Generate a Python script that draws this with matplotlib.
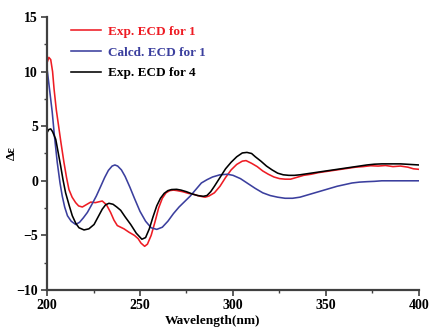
import matplotlib
matplotlib.use("Agg")
import matplotlib.pyplot as plt
from matplotlib.ticker import MultipleLocator

# ---- data ----
wl_exp1 = [200, 201, 202, 203, 203.8, 205, 206.5, 207.5, 209.1, 210.5, 211.8, 213.5, 215.4, 217, 219,
           221, 223.5, 226, 229.7, 232, 234.2, 236, 237.8, 241.4, 244, 247, 249, 250.5, 252.5, 254,
           256, 258, 260, 262, 264, 266, 268, 270, 273, 276, 279, 282, 285, 287, 290, 293, 296, 299,
           302, 305, 307, 310, 313, 316, 319, 322, 325, 328, 331, 334, 338, 342, 346, 350, 354, 358,
           362, 366, 370, 374, 378, 382, 386, 390, 394, 397, 400]
eps_exp1 = [10.8, 11.3, 11.1, 10.0, 8.4, 6.5, 4.7, 3.5, 1.7, 0.3, -0.8, -1.5, -2.0, -2.3, -2.4,
            -2.2, -1.95, -2.0, -1.85, -2.2, -2.9, -3.6, -4.1, -4.4, -4.7, -5.0, -5.3, -5.7, -6.0, -5.8,
            -5.0, -3.8, -2.5, -1.6, -1.1, -0.9, -0.85, -0.9, -1.0, -1.15, -1.25, -1.4, -1.5, -1.4, -1.1,
            -0.5, 0.3, 1.0, 1.5, 1.8, 1.85, 1.6, 1.3, 0.9, 0.6, 0.35, 0.2, 0.15, 0.15, 0.3, 0.5, 0.6,
            0.75, 0.85, 0.95, 1.05, 1.15, 1.25, 1.3, 1.38, 1.35, 1.4, 1.3, 1.35, 1.25, 1.1, 1.05]

wl_calc1 = [200, 201, 202.8, 204, 205.5, 207, 208.2, 209.5, 211, 213, 215.4, 217.5, 219.5, 221.7, 224,
            226.5, 228.9, 231, 233, 235, 236.5, 238, 240, 242, 244.6, 247, 250, 253, 256, 259, 262,
            265, 268, 271, 274, 277, 280, 283, 286, 289, 293, 297, 300, 304, 308, 312, 316, 320, 324,
            328, 332, 336, 340, 344, 348, 352, 356, 360, 364, 368, 372, 376, 380, 390, 400]
eps_calc1 = [10.3, 8.9, 6.3, 4.1, 1.7, -0.2, -1.4, -2.4, -3.2, -3.7, -4.0, -3.8, -3.4, -2.9, -2.2,
             -1.4, -0.5, 0.3, 0.95, 1.35, 1.45, 1.35, 1.0, 0.4, -0.6, -1.6, -2.8, -3.7, -4.3, -4.45, -4.25,
             -3.7, -3.0, -2.4, -1.9, -1.4, -0.8, -0.2, 0.1, 0.35, 0.55, 0.6, 0.5, 0.2, -0.25, -0.7, -1.1,
             -1.35, -1.5, -1.6, -1.6, -1.5, -1.3, -1.1, -0.9, -0.7, -0.5, -0.35, -0.2, -0.12, -0.08,
             -0.05, 0.0, 0.0, 0.0]

wl_exp4 = [200, 201, 202, 203, 204.7, 206, 207.3, 208.6, 210, 212, 213.6, 215.5, 217.2, 219.9, 222.5,
           225.3, 227.5, 229.7, 231.5, 233.3, 235.5, 237.5, 239.6, 242, 245, 248, 251, 253, 255, 257,
           259, 261, 263, 265, 267, 269.7, 272, 275, 278, 281, 284, 286, 288, 290, 293, 296, 299, 302,
           305, 307.5, 310, 312, 315, 318, 321, 324, 327, 330, 333, 336, 340, 344, 348, 352, 356, 360,
           364, 368, 372, 376, 380, 385, 390, 395, 400]
eps_exp4 = [4.4, 4.7, 4.75, 4.5, 3.8, 2.6, 1.4, 0.1, -1.1, -2.3, -3.2, -3.9, -4.3, -4.5, -4.4,
            -4.0, -3.3, -2.6, -2.2, -2.06, -2.15, -2.4, -2.7, -3.3, -4.0, -4.8, -5.35, -5.2, -4.4, -3.3,
            -2.3, -1.6, -1.15, -0.9, -0.8, -0.78, -0.85, -1.0, -1.2, -1.35, -1.42, -1.35, -1.0, -0.5,
            0.3, 1.1, 1.7, 2.2, 2.55, 2.6, 2.5, 2.2, 1.8, 1.35, 1.0, 0.7, 0.55, 0.5, 0.5, 0.55, 0.65,
            0.75, 0.85, 0.95, 1.05, 1.15, 1.25, 1.35, 1.45, 1.52, 1.55, 1.55, 1.55, 1.5, 1.45]

series_labels = ["Exp. ECD for 1", "Calcd. ECD for 1", "Exp. ECD for 4"]
series_colors = ["#ee1c24", "#3b3f9e", "#000000"]

x_ticks = [200, 250, 300, 350, 400]
y_ticks = [-10, -5, 0, 5, 10, 15]

# ---- figure ----
plt.rcParams["font.family"] = ["Liberation Serif", "DejaVu Serif"]
plt.rcParams["font.weight"] = "bold"

fig = plt.figure(figsize=(4.29, 3.32), dpi=100)
ax = fig.add_axes([47 / 429, 1 - 290 / 332, 372 / 429, 273 / 332])

for (x, y), c, lab in zip([(wl_exp1, eps_exp1), (wl_calc1, eps_calc1), (wl_exp4, eps_exp4)],
                          series_colors, series_labels):
    ax.plot(x, y, color=c, lw=1.15, label=lab)

ax.set_xlim(200, 400)
ax.set_ylim(-10, 15)
ax.set_xticks(x_ticks)
ax.set_yticks(y_ticks)
ax.xaxis.set_minor_locator(MultipleLocator(25))
ax.yaxis.set_minor_locator(MultipleLocator(2.5))

for s in ["top", "right"]:
    ax.spines[s].set_visible(False)
for s in ["left", "bottom"]:
    ax.spines[s].set_color("#404040")
    ax.spines[s].set_linewidth(1.6)

ax.tick_params(which="major", direction="out", length=4.5, width=1.2, color="#404040",
               labelsize=10, pad=2)
ax.tick_params(which="minor", direction="out", length=2.5, width=1.0, color="#404040")
for lbl in ax.get_xticklabels() + ax.get_yticklabels():
    lbl.set_fontweight("bold")

ax.set_xlabel("Wavelength(nm)", fontsize=9.6, fontweight="bold")
ax.xaxis.set_label_coords((212.5 - 47) / 372, -0.093)
ax.set_ylabel("Δε", fontsize=9.5, fontweight="bold")
ax.yaxis.set_label_coords(-0.078, 0.5)

leg = ax.legend(loc="upper left", bbox_to_anchor=(0.032, 1.012), frameon=False,
                handlelength=2.3, handletextpad=0.55, labelspacing=0.64,
                prop={"weight": "bold", "size": 9.5})
for txt, c in zip(leg.get_texts(), series_colors):
    txt.set_color(c)

fig.savefig("out.png", dpi=100)
